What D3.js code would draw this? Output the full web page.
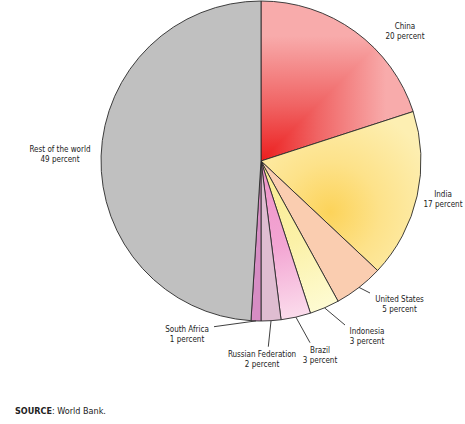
<!DOCTYPE html>
<html>
<head>
<meta charset="utf-8">
<script src="https://cdn.jsdelivr.net/npm/d3@7"></script>
<style>
  html, body { margin: 0; padding: 0; background: #fff; }
  svg { display: block; }
  text { font-family: "DejaVu Sans Condensed", "DejaVu Sans", sans-serif; font-stretch: condensed; fill: #222; }
</style>
</head>
<body>
<div id="chart"></div>
<script>
// ---- data ----
const categories = ["China", "India", "United States", "Indonesia", "Brazil", "Russian Federation", "South Africa", "Rest of the world"];
const values = [20, 17, 5, 3, 3, 2, 1, 49];
const valueSuffix = " percent";
const sourceLabel = "SOURCE";
const sourceText = ": World Bank.";

// ---- layout (offsets from pie centre, px) ----
const labelOffsets = [[144, -132.5], [182, 36], [138.5, 141], [106, 173], [59, 191.5], [1, 196], [-74, 170.5], [-201, -9.3]];
const leaderEnds = [null, null, [109, 132], [84, 164], [49, 181.7], [7.3, 185.7], [-47, 165.7], null];

const W = 465, H = 424;
const cx = 261, cy = 161, R = 160;

const svg = d3.select("#chart").append("svg").attr("width", W).attr("height", H);
const defs = svg.append("defs");

// gradients (coordinates relative to pie centre)
const gradSpecs = {
  chinaH: { type: "linear", x1: 0, y1: 0, x2: 125, y2: 0, stops: [[0, "#ec1e1e"], [0.45, "#f06464"], [1, "#f8abab"]] },
  chinaV: { type: "linear", x1: 0, y1: 0, x2: 0, y2: -125, stops: [[0, "#ec1e1e"], [0.45, "#f06464"], [1, "#f8abab"]] },
  india: { type: "radial", cx: 69, cy: 51, r: 110, stops: [[0, "#fcd35a"], [0.45, "#fde28a"], [1, "#fdefb2"]] },
  indo: { type: "radial", cx: 0, cy: 0, r: R, stops: [[0, "#f9ec90"], [0.55, "#fbf1a8"], [1, "#fefbd2"]] },
  brazil: { type: "radial", cx: 0, cy: 0, r: R, stops: [[0, "#ee92c8"], [0.55, "#f3a6d3"], [1, "#fbdcec"]] }
};
Object.entries(gradSpecs).forEach(([id, g]) => {
  let el;
  if (g.type === "linear") {
    el = defs.append("linearGradient").attr("id", id).attr("gradientUnits", "userSpaceOnUse")
      .attr("x1", g.x1).attr("y1", g.y1).attr("x2", g.x2).attr("y2", g.y2);
  } else {
    el = defs.append("radialGradient").attr("id", id).attr("gradientUnits", "userSpaceOnUse")
      .attr("cx", g.cx).attr("cy", g.cy).attr("r", g.r);
  }
  g.stops.forEach(s => el.append("stop").attr("offset", s[0]).attr("stop-color", s[1]));
});

const fills = [null, "url(#india)", "#facdb0", "url(#indo)", "url(#brazil)", "#dfbdd1", "#d78dc4", "#c0c0c0"];

const pie = d3.pie().sort(null).value(d => d).startAngle(0).endAngle(2 * Math.PI);
const arcs = pie(values);
const arc = d3.arc().innerRadius(0).outerRadius(R);
const rim = d3.arc().innerRadius(R).outerRadius(R);

const g = svg.append("g").attr("transform", `translate(${cx},${cy})`);

// China slice: rectangular gradient via two linear gradients blended with "lighten"
defs.append("clipPath").attr("id", "chinaClip")
  .append("path").attr("d", arc(arcs[0]));
const cg = g.append("g").attr("clip-path", "url(#chinaClip)").style("isolation", "isolate");
cg.append("rect").attr("x", -2).attr("y", -R - 2).attr("width", R + 4).attr("height", R + 4).attr("fill", "url(#chinaH)");
cg.append("rect").attr("x", -2).attr("y", -R - 2).attr("width", R + 4).attr("height", R + 4).attr("fill", "url(#chinaV)")
  .style("mix-blend-mode", "lighten");

// slices
g.selectAll("path.slice").data(arcs).enter().append("path")
  .attr("class", "slice")
  .attr("d", arc)
  .attr("fill", (d, i) => fills[i] || "none")
  .attr("stroke", "#2a2a2a")
  .attr("stroke-width", 0.9)
  .attr("stroke-linejoin", "round");

// leader lines
g.selectAll("line.leader").data(arcs.filter((d, i) => leaderEnds[i])).enter().append("line")
  .attr("class", "leader")
  .attr("x1", d => rim.centroid(d)[0])
  .attr("y1", d => rim.centroid(d)[1])
  .attr("x2", d => leaderEnds[d.index][0])
  .attr("y2", d => leaderEnds[d.index][1])
  .attr("stroke", "#2a2a2a")
  .attr("stroke-width", 0.9);

// labels
const lab = g.selectAll("text.lab").data(arcs).enter().append("text")
  .attr("class", "lab")
  .attr("text-anchor", "middle")
  .attr("font-size", 8)
  .attr("transform", d => `translate(${labelOffsets[d.index][0]},${labelOffsets[d.index][1]})`);
lab.append("tspan").attr("x", 0).attr("y", 0).text((d, i) => categories[i]);
lab.append("tspan").attr("x", 0).attr("y", 10.3).text(d => d.data + valueSuffix);

// source
const src = svg.append("text").attr("x", 15).attr("y", 414).attr("font-size", 9);
src.append("tspan").attr("font-weight", "bold").text(sourceLabel);
src.append("tspan").text(sourceText);
</script>
</body>
</html>
